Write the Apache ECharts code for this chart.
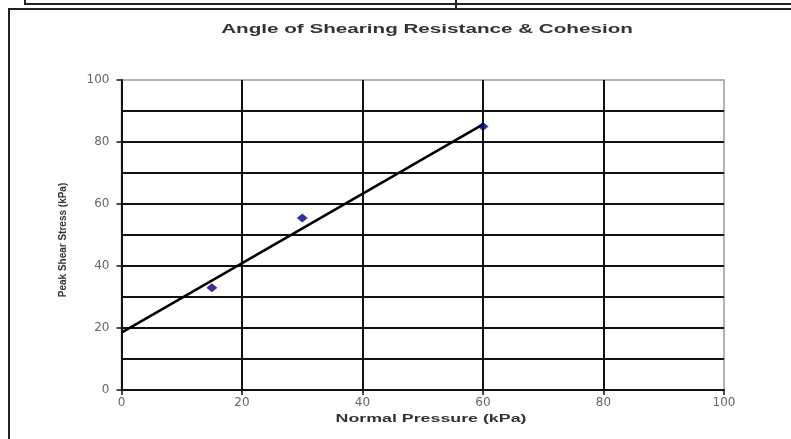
<!DOCTYPE html>
<html>
<head>
<meta charset="utf-8">
<script src="https://cdn.jsdelivr.net/npm/echarts@6/dist/echarts.min.js"></script>
<style>html,body{margin:0;padding:0;background:#fff}#c{width:791px;height:439px}</style>
</head>
<body>
<div id="c"></div>
<script>
const chartTitle = 'Angle of Shearing Resistance & Cohesion';
const xAxisName = 'Normal Pressure (kPa)';
const yAxisName = 'Peak Shear Stress (kPa)';
const normalPressure = [15, 30, 60];
const peakShearStress = [33, 55.5, 85];
const trendPressure = [0, 60];
const trendStress = [18.5, 85.7];
const xRange = [0, 100];
const yRange = [0, 100];

const chart = echarts.init(document.getElementById('c'));
const lineCol = '#111';
chart.setOption({
  animation: false,
  backgroundColor: '#fff',
  grid: { left: 121.5, right: 67, top: 80, bottom: 49, show: true, borderColor: '#9a9a9a', borderWidth: 1.5 },
  xAxis: {
    type: 'value', min: xRange[0], max: xRange[1], interval: 20,
    axisLine: { show: true, onZero: false, lineStyle: { color: lineCol, width: 2 } },
    axisTick: { show: true, length: 5, lineStyle: { color: lineCol, width: 1.5 } },
    axisLabel: { color: '#666', fontFamily: 'DejaVu Sans', fontSize: 12, margin: 7 },
    splitLine: { show: true, showMinLine: false, showMaxLine: false, lineStyle: { color: lineCol, width: 2 } }
  },
  yAxis: {
    type: 'value', min: yRange[0], max: yRange[1], interval: 20,
    axisLine: { show: true, onZero: false, lineStyle: { color: lineCol, width: 2 } },
    axisTick: { show: true, length: 5, lineStyle: { color: lineCol, width: 1.5 } },
    axisLabel: { color: '#666', fontFamily: 'DejaVu Sans', fontSize: 12, margin: 12 },
    splitLine: { show: true, showMinLine: false, showMaxLine: false, lineStyle: { color: lineCol, width: 2 } },
    minorTick: { show: false, splitNumber: 2 },
    minorSplitLine: { show: true, lineStyle: { color: lineCol, width: 2 } }
  },
  graphic: [
    { type: 'rect', silent: true, shape: { x: 9, y: 9, width: 800, height: 450 }, style: { fill: 'none', stroke: '#222', lineWidth: 2 } },
    { type: 'polyline', silent: true, shape: { points: [[25, -5], [25, 4], [800, 4]] }, style: { fill: 'none', stroke: '#222', lineWidth: 2 } },
    { type: 'line', silent: true, shape: { x1: 456, y1: -5, x2: 456, y2: 9 }, style: { stroke: '#222', lineWidth: 2 } },
    { type: 'text', silent: true, x: 427, y: 30, scaleX: 1.72, style: { text: chartTitle, font: 'bold 12px "Liberation Sans"', fill: '#333', align: 'center', verticalAlign: 'middle' } },
    { type: 'text', silent: true, x: 431, y: 419, scaleX: 1.78, style: { text: xAxisName, font: 'bold 10px "Liberation Sans"', fill: '#333', align: 'center', verticalAlign: 'middle' } },
    { type: 'text', silent: true, x: 63, y: 240, rotation: Math.PI / 2, style: { text: yAxisName, font: 'bold 10px "Liberation Sans"', fill: '#333', align: 'center', verticalAlign: 'middle' } }
  ],
  series: [
    {
      type: 'line', data: trendPressure.map((x, i) => [x, trendStress[i]]),
      showSymbol: false, lineStyle: { color: '#000', width: 2.5 }, z: 3
    },
    {
      type: 'scatter', data: normalPressure.map((x, i) => [x, peakShearStress[i]]),
      symbol: 'diamond', symbolSize: [11, 9], itemStyle: { color: '#00007a' }, z: 4
    }
  ]
});
</script>
</body>
</html>
